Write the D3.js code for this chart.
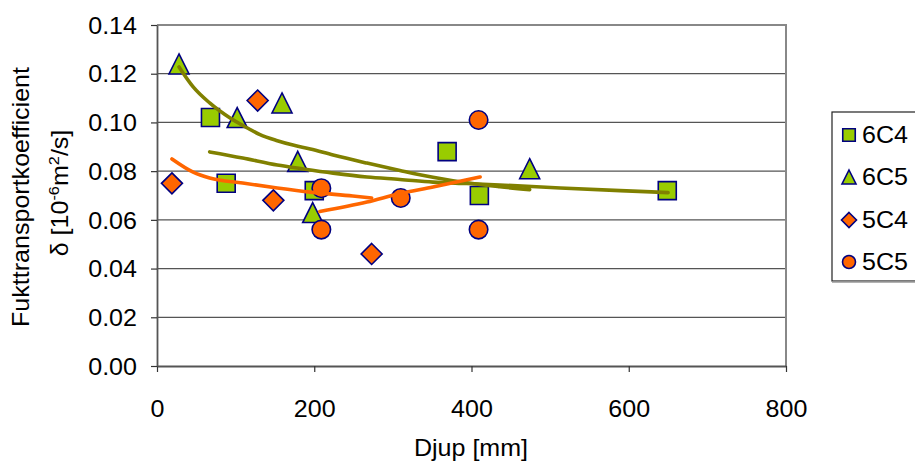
<!DOCTYPE html>
<html><head><meta charset="utf-8">
<script src="https://cdn.jsdelivr.net/npm/d3@7"></script>
<style>
body{margin:0;background:#fff;overflow:hidden}
text{font-family:"Liberation Sans",Arial,Helvetica,sans-serif;fill:#000}
</style>
</head><body>
<svg id="chart" width="915" height="463"></svg>
<script>
// ---- data ----
const seriesNames = ["6C4", "6C5", "5C4", "5C5"];
const x6C4 = [68, 88, 200, 369, 410, 649];
const y6C4 = [0.102, 0.075, 0.072, 0.088, 0.070, 0.072];
const x6C5 = [28, 102, 159, 179, 198, 474];
const y6C5 = [0.124, 0.102, 0.108, 0.084, 0.063, 0.081];
const x5C4 = [19, 128, 148, 273];
const y5C4 = [0.075, 0.109, 0.068, 0.046];
const x5C5 = [209, 209, 310, 409, 409];
const y5C5 = [0.073, 0.056, 0.069, 0.101, 0.056];
// trend lines
const trend6C4X = [67, 109, 153, 186, 224, 267, 309, 351, 394, 436, 513, 589, 650];
const trend6C4Y = [0.0879, 0.0854, 0.0825, 0.0809, 0.0792, 0.0776, 0.0766, 0.0755, 0.0749, 0.0743, 0.0731, 0.0720, 0.0712];
const trend6C5X = [28, 46, 67, 93, 115, 131, 153, 173, 195, 224, 267, 309, 351, 394, 436, 474];
const trend6C5Y = [0.1228, 0.1146, 0.1080, 0.1018, 0.0977, 0.0950, 0.0925, 0.0907, 0.0891, 0.0866, 0.0833, 0.0803, 0.0775, 0.0752, 0.0736, 0.0724];
const trend5C4X = [19, 46, 67, 109, 153, 195, 249, 273];
const trend5C4Y = [0.0850, 0.0796, 0.0772, 0.0751, 0.0731, 0.0714, 0.0698, 0.0690];
const trend5C5X = [207, 267, 309, 351, 411];
const trend5C5Y = [0.0634, 0.0673, 0.0708, 0.0735, 0.0776];
const xTicks = [0, 200, 400, 600, 800];
const yTicks = [0, 0.02, 0.04, 0.06, 0.08, 0.10, 0.12, 0.14];
const xTitle = "Djup [mm]";
const yTitle1 = "Fukttransportkoefficient";

// ---- layout ----
const svg = d3.select("#chart");
const L = 157, T = 25, R = 786, B = 366;
const x = d3.scaleLinear().domain([0, 800]).range([L, R]);
const y = d3.scaleLinear().domain([0, 0.14]).range([B, T]);
const SX = 1.09; // horizontal stretch of the original font
const FS = 23;

const green = "#99CC00", orange = "#FF6600", navy = "#000080", olive = "#808000";

// gridlines
svg.append("g").selectAll("line").data(yTicks.filter(d => d > 0 && d < 0.14)).join("line")
  .attr("x1", L).attr("x2", R).attr("y1", d => y(d)).attr("y2", d => y(d))
  .attr("stroke", "#555").attr("stroke-width", 1.3);
// plot border top/right
svg.append("path").attr("d", `M${L},${y(0.14)}H${R}V${B}`)
  .attr("fill", "none").attr("stroke", "#888").attr("stroke-width", 2);

// axes
const gx = svg.append("g").attr("transform", `translate(0,${B})`)
  .call(d3.axisBottom(x).tickValues(xTicks).tickSize(6).tickSizeOuter(0).tickFormat(d3.format("d")));
const gy = svg.append("g").attr("transform", `translate(${L},0)`)
  .call(d3.axisLeft(y).tickValues(yTicks).tickSize(6).tickSizeOuter(0).tickFormat(d3.format(".2f")));
[gx, gy].forEach(g => {
  g.select(".domain").attr("stroke", "#555").attr("stroke-width", 1.8);
  g.selectAll(".tick line").attr("stroke", "#333").attr("stroke-width", 1.2);
  g.selectAll("text").attr("font-size", FS).attr("font-family", "Liberation Sans, Arial, sans-serif").attr("fill", "#111");
});
gx.selectAll(".tick text").attr("y", 0).attr("dy", 0)
  .attr("transform", `translate(0,51) scale(${SX},1)`);
gy.selectAll(".tick text").attr("x", 0).attr("dy", 0)
  .attr("transform", `translate(-20,8.2) scale(${SX},1)`);

// axis titles
svg.append("text").attr("text-anchor", "middle").attr("font-size", FS).attr("fill", "#111")
  .attr("transform", `translate(471,455.5) scale(${SX},1)`).text(xTitle);
svg.append("text").attr("text-anchor", "middle").attr("font-size", FS).attr("fill", "#111")
  .attr("transform", `translate(29,197) rotate(-90) scale(${SX},1)`).text(yTitle1);
const t2 = svg.append("text").attr("text-anchor", "middle").attr("font-size", FS).attr("fill", "#111")
  .attr("transform", `translate(68,193) rotate(-90) scale(${SX},1)`);
t2.append("tspan").text("δ [10");
t2.append("tspan").attr("font-size", 15).attr("dy", -9).text("-6");
t2.append("tspan").attr("dy", 9).text("m");
t2.append("tspan").attr("font-size", 15).attr("dy", -9).text("2");
t2.append("tspan").attr("dy", 9).text("/s]");

// marker shapes (bounding box centred at 0,0)
function shape(type, s) {
  const h = s / 2;
  if (type === "square") return `M${-h},${-h}H${h}V${h}H${-h}Z`;
  if (type === "triangle") return `M0,${-h}L${h},${h}L${-h},${h}Z`;
  if (type === "diamond") return `M0,${-h}L${h},0L0,${h}L${-h},0Z`;
  return `M${-h},0A${h},${h} 0 1,0 ${h},0A${h},${h} 0 1,0 ${-h},0Z`;
}
const series = [
  { name: seriesNames[0], xs: x6C4, ys: y6C4, shape: "square", size: 18, fill: green, tx: trend6C4X, ty: trend6C4Y, tc: olive, ls: 12.5 },
  { name: seriesNames[1], xs: x6C5, ys: y6C5, shape: "triangle", size: 20, fill: green, tx: trend6C5X, ty: trend6C5Y, tc: olive, ls: 14 },
  { name: seriesNames[2], xs: x5C4, ys: y5C4, shape: "diamond", size: 21, fill: orange, tx: trend5C4X, ty: trend5C4Y, tc: orange, ls: 15 },
  { name: seriesNames[3], xs: x5C5, ys: y5C5, shape: "circle", size: 18.5, fill: orange, tx: trend5C5X, ty: trend5C5Y, tc: orange, ls: 13 }
];

series.forEach(s => {
  svg.append("g").selectAll("path").data(s.xs.map((v, i) => [v, s.ys[i]])).join("path")
    .attr("d", shape(s.shape, s.size))
    .attr("transform", d => `translate(${x(d[0])},${y(d[1])})`)
    .attr("fill", s.fill).attr("stroke", navy).attr("stroke-width", 1.6);
});
const line = d3.line().x(d => x(d[0])).y(d => y(d[1])).curve(d3.curveMonotoneX);
series.forEach(s => {
  svg.append("path").datum(s.tx.map((v, i) => [v, s.ty[i]]))
    .attr("d", line).attr("fill", "none").attr("stroke", s.tc).attr("stroke-width", 3.6)
    .attr("stroke-linecap", "round");
});

// legend
svg.append("rect").attr("x", 832).attr("y", 112).attr("width", 100).attr("height", 169)
  .attr("fill", "#fff").attr("stroke", "#222").attr("stroke-width", 1.2);
svg.append("line").attr("x1", 832).attr("x2", 915).attr("y1", 282).attr("y2", 282)
  .attr("stroke", "#999").attr("stroke-width", 1.5);
const legY = [135, 177, 220, 262];
series.forEach((s, i) => {
  svg.append("path").attr("d", shape(s.shape, s.ls))
    .attr("transform", `translate(849,${legY[i]})`)
    .attr("fill", s.fill).attr("stroke", navy).attr("stroke-width", 1.6);
  svg.append("text").attr("font-size", FS).attr("fill", "#111")
    .attr("transform", `translate(862,${legY[i] + 8.3}) scale(${SX},1)`).text(s.name);
});
</script>
</body></html>
